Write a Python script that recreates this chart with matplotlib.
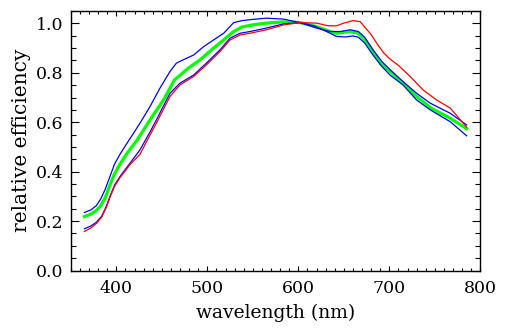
import matplotlib
matplotlib.use("Agg")
import matplotlib.pyplot as plt
from matplotlib.ticker import MultipleLocator, FormatStrFormatter

# wavelength (nm) / relative efficiency
wl_green = [365, 372, 378, 383, 388, 393, 398, 404, 413, 423, 437, 452, 464, 479, 492,
            507, 518, 529, 538, 550, 565, 584, 602, 620, 635, 642, 657, 666, 673, 681,
            690, 701, 715, 730, 746, 767, 785]
eff_green = [0.218, 0.228, 0.242, 0.262, 0.295, 0.345, 0.39, 0.43, 0.48, 0.528, 0.609,
             0.69, 0.771, 0.818, 0.852, 0.9, 0.933, 0.967, 0.985, 0.994, 1.001, 1.006,
             1.003, 0.987, 0.967, 0.96, 0.967, 0.96, 0.933, 0.893, 0.839, 0.805, 0.758,
             0.704, 0.657, 0.616, 0.574]

wl_blue1 = [365, 372, 378, 383, 388, 393, 398, 404, 410, 418, 426, 437, 448, 459, 466,
            475, 485, 496, 507, 518, 529, 538, 550, 565, 584, 602, 617, 631, 642, 652,
            660, 666, 673, 682, 692, 701, 715, 730, 745, 767, 785]
eff_blue1 = [0.235, 0.245, 0.262, 0.29, 0.33, 0.38, 0.43, 0.47, 0.505, 0.55, 0.596,
             0.663, 0.738, 0.805, 0.839, 0.855, 0.872, 0.906, 0.933, 0.96, 1.003, 1.011,
             1.016, 1.021, 1.017, 1.003, 0.99, 0.967, 0.947, 0.945, 0.949, 0.944, 0.92,
             0.872, 0.825, 0.79, 0.751, 0.69, 0.65, 0.602, 0.545]

wl_blue2 = [365, 372, 378, 384, 389, 393, 398, 404, 415, 426, 437, 444, 459, 470, 485,
            499, 514, 525, 536, 547, 565, 584, 602, 620, 635, 646, 657, 666, 673, 682,
            692, 701, 715, 730, 745, 767, 785]
eff_blue2 = [0.169, 0.18, 0.195, 0.22, 0.26, 0.299, 0.345, 0.38, 0.434, 0.488, 0.56,
             0.609, 0.717, 0.758, 0.791, 0.839, 0.893, 0.94, 0.96, 0.967, 0.981, 0.998,
             1.003, 0.981, 0.967, 0.967, 0.974, 0.967, 0.944, 0.893, 0.845, 0.812, 0.765,
             0.717, 0.677, 0.636, 0.589]

wl_red = [365, 372, 378, 384, 389, 393, 398, 404, 415, 426, 433, 444, 459, 470, 485,
          499, 514, 525, 536, 547, 565, 584, 602, 620, 633, 642, 650, 660, 668, 673,
          680, 687, 694, 701, 710, 723, 737, 752, 767, 785]
eff_red = [0.158, 0.172, 0.19, 0.216, 0.255, 0.295, 0.34, 0.375, 0.428, 0.47, 0.52,
           0.596, 0.704, 0.751, 0.785, 0.832, 0.886, 0.933, 0.953, 0.96, 0.974, 0.994,
           1.003, 1.001, 0.99, 0.99, 1.001, 1.011, 1.007, 0.985, 0.955, 0.915, 0.88,
           0.855, 0.83, 0.785, 0.731, 0.69, 0.657, 0.58]

plt.rcParams['font.family'] = ['DejaVu Serif']

fig = plt.figure(figsize=(5.05, 3.32), dpi=100)
ax = fig.add_axes([70.8 / 505, 61.5 / 332, 409.5 / 505, 259.5 / 332])

ax.plot(wl_green, eff_green, color='#00ff00', lw=2.3)
ax.plot(wl_blue1, eff_blue1, color='#0000ff', lw=0.9)
ax.plot(wl_blue2, eff_blue2, color='#0000ff', lw=0.9)
ax.plot(wl_red, eff_red, color='#ff0000', lw=0.9)

ax.set_xlim(350, 800)
ax.set_ylim(0, 1.05)
ax.xaxis.set_major_locator(MultipleLocator(100))
ax.xaxis.set_minor_locator(MultipleLocator(10))
ax.yaxis.set_major_locator(MultipleLocator(0.2))
ax.yaxis.set_minor_locator(MultipleLocator(0.05))
ax.yaxis.set_major_formatter(FormatStrFormatter('%.1f'))

ax.tick_params(which='both', direction='in', top=True, right=True, width=0.8,
               labelsize=12.5)
ax.tick_params(axis='x', which='major', length=3.6, pad=7)
ax.tick_params(axis='x', which='minor', length=2.4)
ax.tick_params(axis='y', which='major', length=6.1, pad=5)
ax.tick_params(axis='y', which='minor', length=3.6)
for s in ax.spines.values():
    s.set_linewidth(1.0)

ax.set_xlabel('wavelength (nm)', fontsize=13.5, labelpad=5)
ax.set_ylabel('relative efficiency', fontsize=14.5, labelpad=4)

fig.savefig('out.png', dpi=100)
